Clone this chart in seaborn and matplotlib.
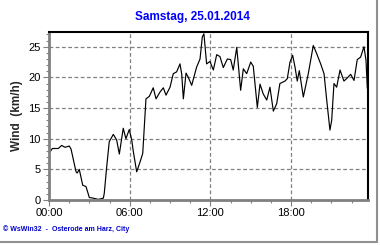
import matplotlib
matplotlib.use("Agg")
import matplotlib.pyplot as plt
from matplotlib.ticker import MultipleLocator, FixedLocator
from matplotlib.lines import Line2D
import seaborn as sns
import pandas as pd

# time of day in hours
hours = [0.0, 0.25, 0.69, 0.94, 1.19, 1.51, 1.64, 2.01, 2.10, 2.25, 2.51, 2.75,
         3.0, 3.29, 3.67, 4.04, 4.11, 4.29, 4.48, 4.78, 5.03, 5.23, 5.52, 5.72,
         5.97, 6.15, 6.27, 6.52, 6.77, 6.97, 7.21, 7.46, 7.75, 7.96, 8.25, 8.50,
         8.70, 9.00, 9.24, 9.49, 9.74, 9.87, 9.99, 10.19, 10.36, 10.61, 10.98,
         11.23, 11.40, 11.52, 11.72, 11.97, 12.22, 12.47, 12.71, 12.96, 13.26,
         13.51, 13.70, 13.96, 14.25, 14.45, 14.70, 15.00, 15.19, 15.49, 15.69,
         15.93, 16.19, 16.43, 16.68, 16.93, 17.17, 17.55, 17.72, 17.92, 18.12,
         18.29, 18.46, 18.61, 18.91, 19.28, 19.65, 19.90, 20.20, 20.45, 20.65,
         20.89, 21.02, 21.19, 21.39, 21.64, 21.93, 22.13, 22.43, 22.68, 22.92,
         23.17, 23.42, 23.57, 23.67]
wind = [7.6, 8.4, 8.4, 8.9, 8.6, 8.8, 8.3, 4.6, 4.4, 5.0, 2.4, 2.2,
        0.4, 0.3, 0.1, 0.3, 1.1, 5.4, 9.5, 10.7, 9.8, 7.5, 11.7, 10.0,
        11.5, 9.8, 7.9, 4.6, 6.2, 7.6, 16.5, 16.9, 18.3, 16.5, 17.6, 18.3,
        17.1, 18.4, 20.6, 20.9, 22.2, 20.5, 16.5, 20.7, 20.0, 18.7, 21.7,
        23.0, 26.6, 27.1, 22.2, 22.6, 21.2, 23.7, 23.4, 21.6, 23.0,
        22.9, 21.2, 24.9, 17.9, 21.4, 20.6, 22.5, 21.8, 15.1, 18.9,
        17.3, 16.3, 18.4, 14.5, 15.7, 19.0, 19.4, 19.8, 22.5, 23.6,
        21.7, 19.4, 21.1, 16.8, 20.6, 25.2, 23.9, 22.2, 20.6, 16.3,
        11.4, 13.0, 19.0, 18.4, 21.2, 19.4, 19.8, 20.5, 19.5, 22.9,
        23.3, 25.0, 22.8, 18.2]

x_ticks = [0, 6, 12, 18]
x_labels = ["00:00", "06:00", "12:00", "18:00"]
y_ticks = [0, 5, 10, 15, 20, 25]

title = "Samstag, 25.01.2014"
ylabel = "Wind  (km/h)"
footer = "\u00a9 WsWin32  -  Osterode am Harz, City"

sns.set_theme(style="white")
plt.rcParams["font.family"] = ["Liberation Sans", "DejaVu Sans"]

df = pd.DataFrame({"h": hours, "v": wind})

fig = plt.figure(figsize=(3.8, 2.45), dpi=100)
fig.patch.set_facecolor("white")
ax = fig.add_axes([49 / 380, 45 / 245, 319 / 380, 168 / 245])

sns.lineplot(data=df, x="h", y="v", ax=ax, color="black", linewidth=0.85)

ax.set_xlim(0, 23.72)
ax.set_ylim(0, 27.4)
ax.xaxis.set_major_locator(FixedLocator(x_ticks))
ax.set_xticklabels(x_labels)
ax.xaxis.set_minor_locator(MultipleLocator(1.5))
ax.yaxis.set_major_locator(FixedLocator(y_ticks))
ax.yaxis.set_minor_locator(MultipleLocator(1))

ax.grid(True, which="major", color="#808080", linestyle=(0, (3, 2)), linewidth=0.9)
ax.set_axisbelow(True)

ax.tick_params(axis="both", which="major", length=4, width=0.8, color="#808080",
               labelsize=8, labelcolor="black", direction="out", pad=2,
               bottom=True, left=True)
ax.tick_params(axis="both", which="minor", length=2, width=0.8, color="#808080",
               direction="out", bottom=True, left=True)

for s in ("left", "bottom"):
    ax.spines[s].set_color("#808080")
    ax.spines[s].set_linewidth(2.0)
    ax.spines[s].set_visible(True)
for s in ("top", "right"):
    ax.spines[s].set_color("black")
    ax.spines[s].set_linewidth(1.5)
    ax.spines[s].set_visible(True)

ax.set_xlabel("")
ax.set_ylabel(ylabel, fontsize=8.5, fontweight="bold", labelpad=4)

fig.text(192 / 380, 1 - 17 / 245, title, color="#0000ff", fontsize=8.5,
         fontweight="bold", ha="center", va="center")
fig.text(3 / 380, 1 - 229 / 245, footer, color="#0000cc", fontsize=5,
         fontweight="bold", ha="left", va="center")

# outer frame (right and bottom border)
fig.add_artist(Line2D([377 / 380, 377 / 380], [3 / 245, 1.0], transform=fig.transFigure,
                      color="#909090", linewidth=1.5))
fig.add_artist(Line2D([0, 377 / 380], [3 / 245, 3 / 245], transform=fig.transFigure,
                      color="#909090", linewidth=1.5))

fig.savefig("out.png", dpi=100)
